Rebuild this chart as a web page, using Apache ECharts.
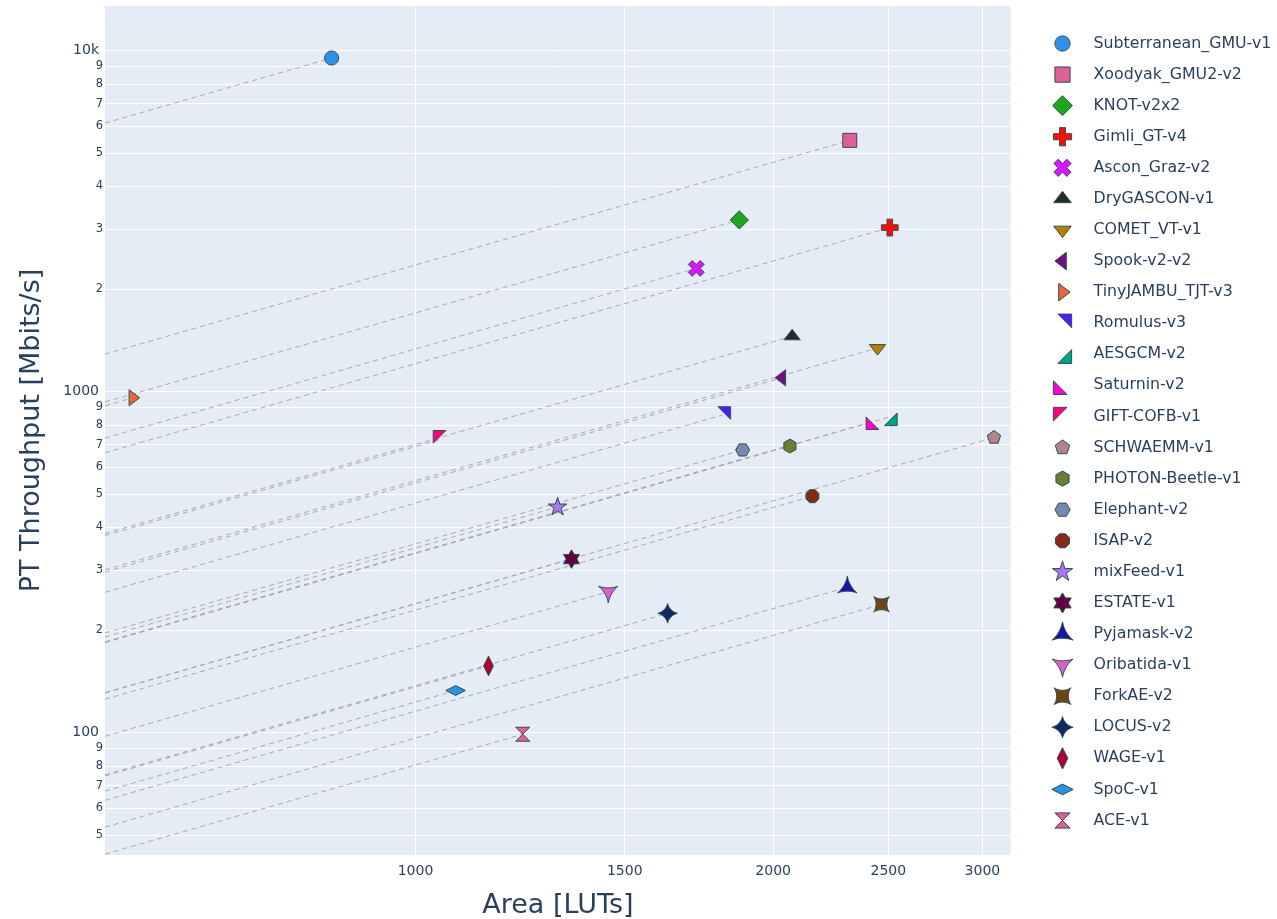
<!DOCTYPE html>
<html>
<head>
<meta charset="utf-8">
<script src="https://cdn.jsdelivr.net/npm/echarts@6/dist/echarts.min.js"></script>
<style>
html,body{margin:0;padding:0;background:#ffffff;}
#chart{width:1277px;height:919px;}
</style>
</head>
<body>
<div id="chart"></div>
<script>
// ---------------- data ----------------
const names = [
  'Subterranean_GMU-v1','Xoodyak_GMU2-v2','KNOT-v2x2','Gimli_GT-v4','Ascon_Graz-v2',
  'DryGASCON-v1','COMET_VT-v1','Spook-v2-v2','TinyJAMBU_TJT-v3','Romulus-v3',
  'AESGCM-v2','Saturnin-v2','GIFT-COFB-v1','SCHWAEMM-v1','PHOTON-Beetle-v1',
  'Elephant-v2','ISAP-v2','mixFeed-v1','ESTATE-v1','Pyjamask-v2',
  'Oribatida-v1','ForkAE-v2','LOCUS-v2','WAGE-v1','SpoC-v1','ACE-v1'
];
const areaLUTs = [
  850, 2320, 1873, 2507, 1723,
  2075, 2448, 2035, 578, 1812,
  2502, 2434, 1052, 3068, 2066,
  1885, 2158, 1317, 1353, 2309,
  1453, 2467, 1630, 1152, 1081, 1231
];
const ptThroughput = [
  9520, 5460, 3190, 3030, 2300,
  1454, 1343, 1099, 960, 854,
  842, 820, 727, 734, 693,
  675, 494, 459, 323, 267,
  259, 238, 224, 157, 133, 99
];
const xTickValues = [1000, 1500, 2000, 2500, 3000];
const yTickValues = [50,60,70,80,90,100,200,300,400,500,600,700,800,900,
                     1000,2000,3000,4000,5000,6000,7000,8000,9000,10000];
const xRange = [547.9, 3169];
const yRange = [43.8, 13527];

// ---------------- styles ----------------
const colors = ['#2E91E5','#E15F99','#1CA71C','#FB0D0D','#DA16FF','#222A2A','#B68100','#750D86',
  '#EB663B','#511CFB','#00A08B','#FB00D1','#FC0080','#B2828D','#6C7C32','#778AAE','#862A16',
  '#A777F1','#620042','#1616A7','#DA60CA','#6C4516','#0D2A63','#AF0038'];
const symbolKinds = ['circle','square','diamond','cross','x','triangle-up','triangle-down',
  'triangle-left','triangle-right','triangle-ne','triangle-se','triangle-sw','triangle-nw',
  'pentagon','hexagon','hexagon2','octagon','star','hexagram','star-triangle-up',
  'star-triangle-down','star-square','star-diamond','diamond-tall','diamond-wide','hourglass'];

const FONT = 'DejaVu Sans';
const TXT = '#2a3f5f';
const R = 7;        // marker radius
const BOX = 11.5;   // common half-extent of every symbol box
const LEG = 25;     // legend icon box

function n(v){ return (Math.round(v*1000)/1000).toString(); }
function P(pts){ return 'M' + pts.map(p => n(p[0]) + ',' + n(p[1])).join('L') + 'Z'; }
// points of a small arc (SVG sweep-flag 1) from p1 to p2 with radius rc, end point excluded
function arcPts(p1, p2, rc, steps){
  const dx = p2[0]-p1[0], dy = p2[1]-p1[1];
  const len = Math.hypot(dx, dy), ux = dx/len, uy = dy/len;
  const h = Math.sqrt(Math.max(rc*rc - len*len/4, 0));
  const cx = (p1[0]+p2[0])/2 - uy*h, cy = (p1[1]+p2[1])/2 + ux*h;
  let a1 = Math.atan2(p1[1]-cy, p1[0]-cx), a2 = Math.atan2(p2[1]-cy, p2[0]-cx);
  while (a2 < a1) a2 += 2*Math.PI;
  const out = [];
  for (let k = 0; k < steps; k++){
    const a = a1 + (a2-a1)*k/steps;
    out.push([cx + rc*Math.cos(a), cy + rc*Math.sin(a)]);
  }
  return out;
}
function arcPoly(vertices, rc){
  let pts = [];
  for (let i = 0; i < vertices.length; i++){
    pts = pts.concat(arcPts(vertices[i], vertices[(i+1)%vertices.length], rc, 10));
  }
  return P(pts);
}
function shape(kind, r){
  const s3 = Math.sqrt(3);
  switch(kind){
    case 'circle': { const pts=[]; for (let k=0;k<48;k++){ const a=2*Math.PI*k/48; pts.push([r*Math.cos(a), r*Math.sin(a)]); } return P(pts); }
    case 'square': return P([[r,r],[-r,r],[-r,-r],[r,-r]]);
    case 'diamond': { const d=1.3*r; return P([[d,0],[0,d],[-d,0],[0,-d]]); }
    case 'cross': { const a=0.4*r, b=1.2*r; return P([[b,a],[a,a],[a,b],[-a,b],[-a,a],[-b,a],[-b,-a],[-a,-a],[-a,-b],[a,-b],[a,-a],[b,-a]]); }
    case 'x': { const q=0.8*r/Math.SQRT2;
      return P([[0,q],[q,2*q],[2*q,q],[q,0],[2*q,-q],[q,-2*q],[0,-q],[-q,-2*q],[-2*q,-q],[-q,0],[-2*q,q],[-q,2*q]]); }
    case 'triangle-up': { const t=2*r/s3, h=r/2; return P([[-t,h],[t,h],[0,-r]]); }
    case 'triangle-down': { const t=2*r/s3, h=r/2; return P([[-t,-h],[t,-h],[0,r]]); }
    case 'triangle-left': { const t=2*r/s3, h=r/2; return P([[h,-t],[h,t],[-r,0]]); }
    case 'triangle-right': { const t=2*r/s3, h=r/2; return P([[-h,-t],[-h,t],[r,0]]); }
    case 'triangle-ne': { const a=1.2*r, b=0.6*r; return P([[-b,-a],[a,-a],[a,b]]); }
    case 'triangle-se': { const a=1.2*r, b=0.6*r; return P([[a,-b],[a,a],[-b,a]]); }
    case 'triangle-sw': { const a=1.2*r, b=0.6*r; return P([[b,a],[-a,a],[-a,-b]]); }
    case 'triangle-nw': { const a=1.2*r, b=0.6*r; return P([[-a,b],[-a,-a],[b,-a]]); }
    case 'pentagon': { const x1=.951*r,x2=.588*r,y0=-r,y1=-.309*r,y2=.809*r;
      return P([[x1,y1],[x2,y2],[-x2,y2],[-x1,y1],[0,y0]]); }
    case 'hexagon': { const y0=r,y1=r/2,x=r*s3/2; return P([[x,-y1],[x,y1],[0,y0],[-x,y1],[-x,-y1],[0,-y0]]); }
    case 'hexagon2': { const y0=r,y1=r/2,x=r*s3/2; return P([[-y1,x],[y1,x],[y0,0],[y1,-x],[-y1,-x],[-y0,0]]); }
    case 'octagon': { const a=.924*r,b=.383*r; return P([[-b,-a],[b,-a],[a,-b],[a,b],[b,a],[-b,a],[-a,b],[-a,-b]]); }
    case 'star': { const rs=1.4*r,x1=.225*rs,x2=.951*rs,x3=.363*rs,x4=.588*rs,y0=-rs,y1=-.309*rs,y3=.118*rs,y4=.809*rs,y2=.382*rs;
      return P([[x1,y1],[x2,y1],[x3,y3],[x4,y4],[0,y2],[-x4,y4],[-x3,y3],[-x2,y1],[-x1,y1],[0,y0]]); }
    case 'hexagram': { const y=.66*r,a=.38*r,b=.76*r;
      return P([[-b,0],[-b-a,-y],[-a,-y],[0,-2*y],[a,-y],[a+b,-y],[b,0],[b+a,y],[a,y],[0,2*y],[-a,y],[-a-b,y]]); }
    case 'star-triangle-up': { const x=r*s3*.8,y1=.8*r,y2=1.6*r; return arcPoly([[-x,y1],[x,y1],[0,-y2]], 4*r); }
    case 'star-triangle-down': { const x=r*s3*.8,y1=.8*r,y2=1.6*r; return arcPoly([[x,-y1],[-x,-y1],[0,y2]], 4*r); }
    case 'star-square': { const p=1.1*r; return arcPoly([[-p,-p],[-p,p],[p,p],[p,-p]], 2*r); }
    case 'star-diamond': { const p=1.4*r; return arcPoly([[-p,0],[0,p],[p,0],[0,-p]], 1.9*r); }
    case 'diamond-tall': { const x=.7*r,y=1.4*r; return P([[0,y],[x,0],[0,-y],[-x,0]]); }
    case 'diamond-wide': { const x=1.4*r,y=.7*r; return P([[0,y],[x,0],[0,-y],[-x,0]]); }
    case 'hourglass': return P([[r,r],[-r,r],[r,-r],[-r,-r]]);
  }
}
function symbolPath(kind){
  return 'path://M'+(-BOX)+','+(-BOX)+'M'+BOX+','+BOX+shape(kind, R);
}

function yLabel(v){
  if (Math.abs(v-10000) < 1e-6) return '{big|10k}';
  if (Math.abs(v-1000) < 1e-6 || Math.abs(v-100) < 1e-6) return '{big|'+Math.round(v)+'}';
  const e = Math.floor(Math.log10(v) + 1e-9);
  return '{small|' + Math.round(v / Math.pow(10, e)) + '}';
}

// ---------------- series ----------------
const series = [];
names.forEach((name, i) => {
  const x = areaLUTs[i], y = ptThroughput[i];
  series.push({
    type: 'line',
    silent: true,
    symbol: 'none',
    z: 1,
    animation: false,
    lineStyle: { color: '#a9a9a9', width: 1, type: [5, 4] },
    data: [[xRange[0], y * xRange[0] / x], [x, y]]
  });
});
names.forEach((name, i) => {
  series.push({
    name: name,
    type: 'scatter',
    z: 3,
    symbol: symbolPath(symbolKinds[i]),
    symbolSize: 2*BOX,
    symbolKeepAspect: true,
    itemStyle: { color: colors[i % colors.length], borderColor: '#2F4F4F', borderWidth: 1,
                 borderMiterLimit: 4, opacity: 1 },
    emphasis: { disabled: true },
    data: [[areaLUTs[i], ptThroughput[i]]]
  });
});

const chart = echarts.init(document.getElementById('chart'), null, { renderer: 'canvas' });
chart.setOption({
  animation: false,
  backgroundColor: '#ffffff',
  textStyle: { fontFamily: FONT, color: TXT },
  grid: { left: 105, right: 266.3, top: 6, bottom: 64, show: true,
          backgroundColor: '#E5ECF6', borderWidth: 0, containLabel: false,
          outerBoundsMode: 'none' },
  legend: {
    orient: 'vertical',
    left: 1044.5, top: 25.5,
    itemWidth: LEG, itemHeight: LEG, itemGap: 5.08,
    data: names,
    itemStyle: { borderWidth: 1, borderColor: '#2F4F4F', borderMiterLimit: 4 },
    textStyle: { fontFamily: FONT, fontSize: 15.8, color: TXT, padding: [0, 0, 0, 13.5] },
    symbolKeepAspect: true,
    selectedMode: false
  },
  xAxis: {
    type: 'log', logBase: 10,
    min: xRange[0], max: xRange[1],
    name: 'Area [LUTs]', nameLocation: 'middle', nameGap: 37,
    nameTextStyle: { fontFamily: FONT, fontSize: 27, color: TXT },
    axisLine: { show: false }, axisTick: { show: false, customValues: xTickValues },
    axisLabel: { customValues: xTickValues, fontFamily: FONT, fontSize: 14, color: TXT, margin: 9,
                 formatter: v => String(Math.round(v)) },
    splitLine: { show: true, lineStyle: { color: '#ffffff', width: 1 } },
    minorSplitLine: { show: false }
  },
  yAxis: {
    type: 'log', logBase: 10,
    min: yRange[0], max: yRange[1],
    name: 'PT Throughput [Mbits/s]', nameLocation: 'middle', nameGap: 60, nameRotate: 90,
    nameTextStyle: { fontFamily: FONT, fontSize: 27, color: TXT },
    axisLine: { show: false }, axisTick: { show: false, customValues: yTickValues },
    axisLabel: { customValues: yTickValues, margin: 2, formatter: yLabel,
      rich: {
        big: { fontFamily: FONT, fontSize: 14, color: TXT, padding: [0, 4, 0, 0] },
        small: { fontFamily: FONT, fontSize: 11.5, color: TXT }
      } },
    splitLine: { show: true, lineStyle: { color: '#ffffff', width: 1 } }
  },
  series: series
});
</script>
</body>
</html>
